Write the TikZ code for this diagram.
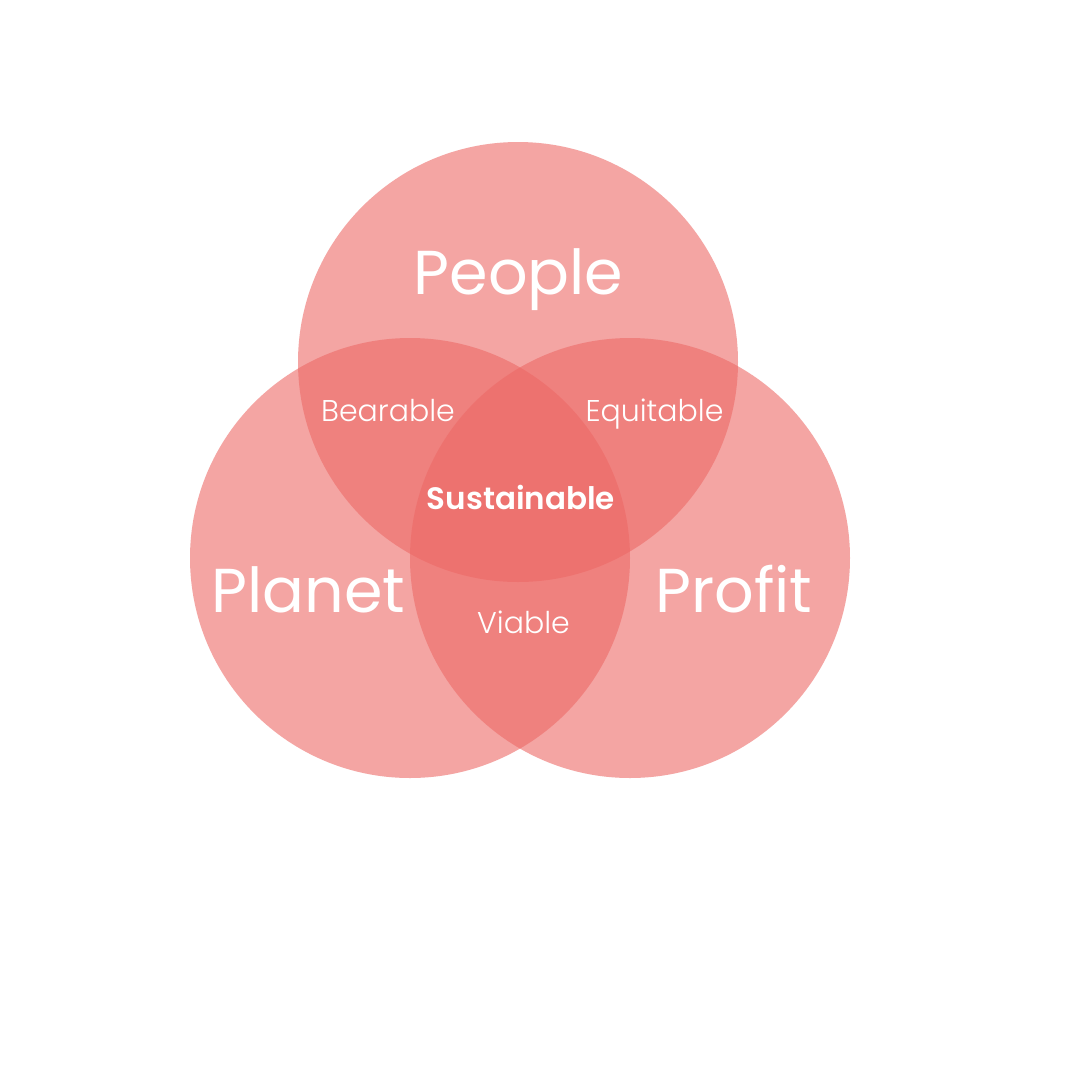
\documentclass[tikz,border=0pt]{standalone}
\usepackage{fontspec}
\setmainfont{Poppins}
\newfontfamily\lightfont{Poppins Light}
\newfontfamily\semifont{Poppins SemiBold}
\definecolor{venn}{RGB}{237,105,102}
\begin{document}
\begin{tikzpicture}[x=1pt,y=-1pt,
  ring/.style={circle, fill=venn, fill opacity=0.6, draw=none, minimum size=440pt, inner sep=0pt},
  bigl/.style={text=white, anchor=base, font=\fontsize{62}{64}\selectfont},
  smalll/.style={text=white, anchor=base, font=\lightfont\fontsize{30}{32}\selectfont},
  boldl/.style={text=white, anchor=base, font=\semifont\fontsize{31}{33}\selectfont}]
\useasboundingbox (0,0) rectangle (1080,1080);
\fill[white] (0,0) rectangle (1080,1080);
\node[ring] (people) at (518,362) {};
\node[ring] (planet) at (410,558) {};
\node[ring] (profit) at (630,558) {};
\node[bigl] (tpeople) at (518.5,294) {People};
\node[bigl] (tplanet) at (308.5,612) {Planet};
\node[bigl] (tprofit) at (734,612) {Profit};
\node[smalll] (tbear) at (388,421) {Bearable};
\node[smalll] (tequi) at (654.5,421) {Equitable};
\node[boldl] (tsust) at (521,509) {Sustainable};
\node[smalll] (tvia) at (523.5,633) {Viable};
\end{tikzpicture}
\end{document}
